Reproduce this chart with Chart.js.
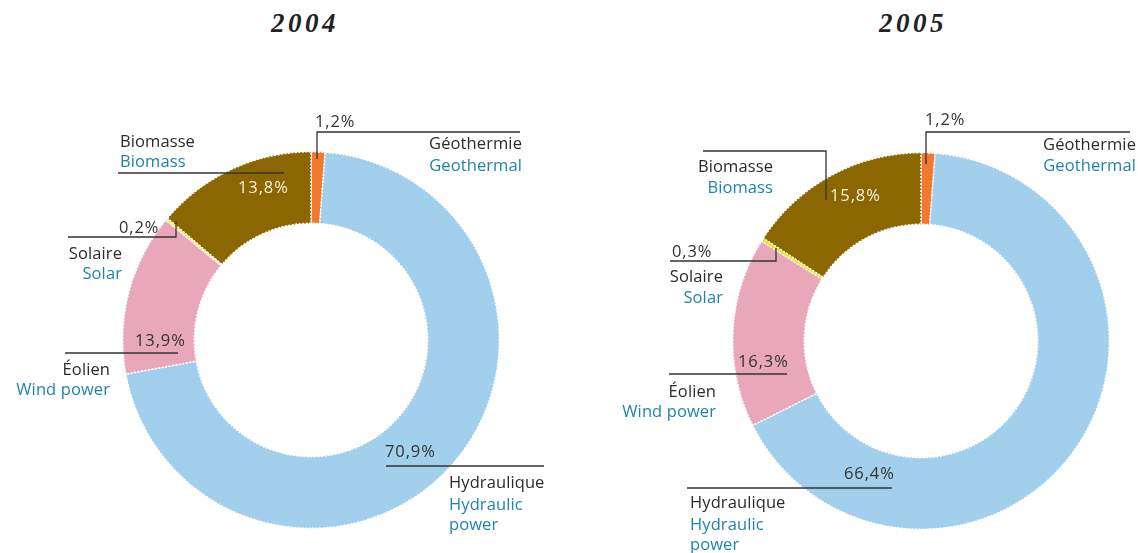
<!DOCTYPE html>
<html><head><meta charset="utf-8">
<script src="https://cdn.jsdelivr.net/npm/chart.js@4.4.1/dist/chart.umd.min.js"></script>
<style>
html,body{margin:0;padding:0;background:#fff;width:1138px;height:553px;overflow:hidden;}
.wrap{position:absolute;top:0;width:569px;height:553px;}
.title{position:absolute;top:8px;font-family:"Liberation Serif",serif;font-style:italic;font-weight:bold;font-size:27px;color:#222;letter-spacing:3.5px;}
</style></head><body>
<div class="title" style="left:271px">2004</div>
<div class="title" style="left:879px">2005</div>
<div class="wrap" style="left:0"><canvas id="c1" width="569" height="553"></canvas></div>
<div class="wrap" style="left:569px"><canvas id="c2" width="569" height="553"></canvas></div>
<script>
const years = ['2004','2005'];
const categoriesFr = ['Géothermie','Hydraulique','Éolien','Solaire','Biomasse'];
const categoriesEn = ['Geothermal','Hydraulic|power','Wind power','Solar','Biomass'];
const values2004 = [1.2, 70.9, 13.9, 0.2, 13.8];
const values2005 = [1.2, 66.4, 16.3, 0.3, 15.8];
const sliceColors = ['#f27a30','#a2cfeb','#e9a8b9','#f5df1a','#8a6700'];

const fmt = v => v.toFixed(1).replace('.', ',') + '%';

// label layouts (annotation positions, canvas-local)
const layout2004 = [
  {pct:[315,122,'left'], line:[[317,159],[317,132],[520,132]], fr:[522,144,'right'], en:[522,166,'right']},
  {pct:[385,452,'left'], line:[[386,466],[544,466]], fr:[449,483,'left'], en:[449,505,'left']},
  {pct:[135,341,'left'], line:[[65,353],[178,353]], fr:[110,370,'right'], en:[110,390,'right']},
  {pct:[119,228,'left'], line:[[68,237],[176,237],[176,221]], fr:[122,254,'right'], en:[122,274,'right']},
  {pct:[238,188,'left',true], line:[[118,173],[284,173]], fr:[120,142,'left'], en:[120,162,'left']}
];
const layout2005 = [
  {pct:[356,120,'left'], line:[[357,164],[357,132],[561,132]], fr:[567,145,'right'], en:[567,166,'right']},
  {pct:[275,474,'left'], line:[[118,488],[323,488]], fr:[121,503,'left'], en:[121,525,'left']},
  {pct:[169,362,'left'], line:[[100,374],[218,374]], fr:[147,392,'right'], en:[147,412,'right']},
  {pct:[103,252,'left'], line:[[101,261],[207,261],[207,248]], fr:[154,277,'right'], en:[154,298,'right']},
  {pct:[261,196,'left',true], line:[[134,151],[257,151],[257,200]], fr:[204,167,'right'], en:[204,188,'right']}
];

const FONT = '16.5px "Open Sans", "Noto Sans", sans-serif';
const labelPlugin = {
  id:'leaderLabels',
  afterDraw(chart, args, opts){
    const ctx = chart.ctx;
    const vals = chart.data.datasets[0].data;
    ctx.save();
    ctx.font = FONT;
    ctx.textBaseline = 'middle';
    opts.layout.forEach((L, i) => {
      ctx.strokeStyle = '#333';
      ctx.lineWidth = 1.3;
      ctx.beginPath();
      L.line.forEach((p, k) => k ? ctx.lineTo(p[0], p[1]) : ctx.moveTo(p[0], p[1]));
      ctx.stroke();
      ctx.fillStyle = L.pct[3] ? '#f4eee0' : '#333';
      ctx.textAlign = L.pct[2];
      ctx.letterSpacing = '0.9px';
      ctx.fillText(fmt(vals[i]), L.pct[0], L.pct[1]);
      ctx.letterSpacing = '0.1px';
      ctx.fillStyle = '#2b2b2b';
      ctx.textAlign = L.fr[2];
      ctx.fillText(categoriesFr[i], L.fr[0], L.fr[1]);
      ctx.fillStyle = '#1f84ad';
      ctx.textAlign = L.en[2];
      categoriesEn[i].split('|').forEach((t, j) => ctx.fillText(t, L.en[0], L.en[1] + j * 20));
    });
    ctx.restore();
  }
};

function makeChart(id, values, pad, layout){
  new Chart(document.getElementById(id), {
    type:'doughnut',
    data:{ labels: categoriesEn.map(s=>s.replace('|',' ')), datasets:[{
      data: values,
      backgroundColor: sliceColors,
      borderColor:'#ffffff',
      borderWidth:1.5,
      borderDash:[2,1.5]
    }]},
    options:{
      responsive:false, animation:false, cutout:'62%',
      layout:{padding:pad},
      plugins:{legend:{display:false}, tooltip:{enabled:false}, leaderLabels:{layout}}
    },
    plugins:[labelPlugin]
  });
}
makeChart('c1', values2004, {left:122, right:69, top:151, bottom:24}, layout2004);
makeChart('c2', values2005, {left:163, right:28, top:152, bottom:23}, layout2005);
</script>
</body></html>
